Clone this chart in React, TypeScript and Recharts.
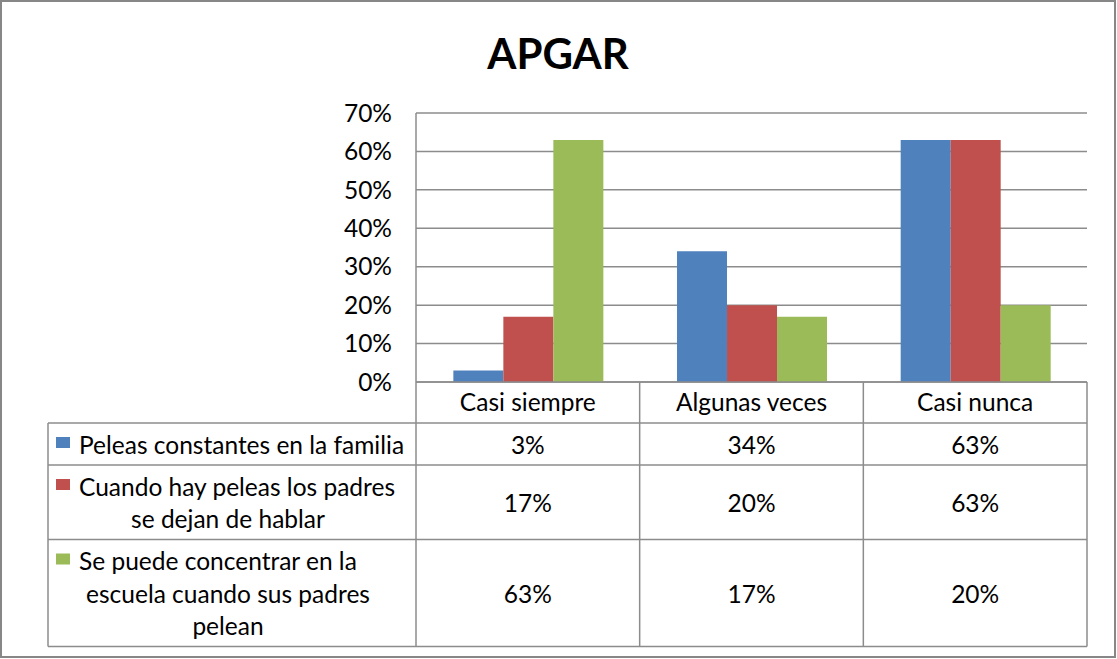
import { BarChart, Bar, XAxis, YAxis, CartesianGrid, Customized } from 'recharts'

const CATEGORIES = ['Casi siempre', 'Algunas veces', 'Casi nunca']
const PELEAS = [3, 34, 63]
const DEJAN_HABLAR = [17, 20, 63]
const CONCENTRAR = [63, 17, 20]
const Y_TICKS = [0, 10, 20, 30, 40, 50, 60, 70]

const SERIES = [
  { key: 'peleas', values: PELEAS, color: '#4F81BD', lines: ['Peleas constantes en la familia'] },
  {
    key: 'hablar',
    values: DEJAN_HABLAR,
    color: '#C0504D',
    lines: ['Cuando hay peleas los padres', 'se dejan de hablar'],
  },
  {
    key: 'concentrar',
    values: CONCENTRAR,
    color: '#9BBB59',
    lines: ['Se puede concentrar en la', 'escuela cuando sus padres', 'pelean'],
  },
]

const data = CATEGORIES.map((name, i) => {
  const row: Record<string, string | number> = { name }
  SERIES.forEach((s) => (row[s.key] = s.values[i]))
  return row
})

// layout (matches the excel export)
const W = 1117
const H = 659
const PLOT_LEFT = 416
const PLOT_RIGHT = 1087
const PLOT_TOP = 113
const PLOT_BOTTOM = 382
const HEADER_H = 41
const TABLE_LEFT = 48
const LINE_H = 32.5
const ROW_PAD = 9.5
const Y_AXIS_W = 60

const FONT = 'Lato, Carlito, Calibri, sans-serif'
const FONT_SIZE = 24.5
const LINE_COLOR = '#8c8c8c'

function DataTable() {
  const colW = (PLOT_RIGHT - PLOT_LEFT) / CATEGORIES.length
  let top = PLOT_BOTTOM + HEADER_H
  const rows = SERIES.map((s) => {
    const h = s.lines.length * LINE_H + ROW_PAD
    const r = { ...s, top, h }
    top += h
    return r
  })
  const bottom = top

  return (
    <g>
      <rect x={1} y={1} width={W - 3} height={H - 3} fill="none" stroke="#878787" strokeWidth={2} />

      {/* column lines */}
      {CATEGORIES.map((_, i) => (
        <line
          key={i}
          x1={PLOT_LEFT + i * colW}
          x2={PLOT_LEFT + i * colW}
          y1={PLOT_BOTTOM}
          y2={bottom}
          stroke={LINE_COLOR}
          strokeWidth={1.5}
        />
      ))}
      <line x1={PLOT_RIGHT} x2={PLOT_RIGHT} y1={PLOT_BOTTOM} y2={bottom} stroke={LINE_COLOR} strokeWidth={1.5} />
      <line x1={TABLE_LEFT} x2={TABLE_LEFT} y1={PLOT_BOTTOM + HEADER_H} y2={bottom} stroke={LINE_COLOR} strokeWidth={1.5} />

      {/* row lines */}
      {rows.map((r) => (
        <line key={r.key} x1={TABLE_LEFT} x2={PLOT_RIGHT} y1={r.top} y2={r.top} stroke={LINE_COLOR} strokeWidth={1.5} />
      ))}
      <line x1={TABLE_LEFT} x2={PLOT_RIGHT} y1={bottom} y2={bottom} stroke={LINE_COLOR} strokeWidth={1.5} />

      {rows.map((r) => {
        const mid = r.top + r.h / 2
        const n = r.lines.length
        return (
          <g key={r.key} fontFamily={FONT} fontSize={FONT_SIZE} fill="#000">
            {r.lines.map((ln, k) => {
              const cy = mid + (k - (n - 1) / 2) * LINE_H
              if (k === 0) {
                return (
                  <g key={k}>
                    <rect x={56} y={cy - 7} width={14} height={11} fill={r.color} />
                    <text x={79} y={cy} dominantBaseline="central">
                      {ln}
                    </text>
                  </g>
                )
              }
              return (
                <text key={k} x={228} y={cy} textAnchor="middle" dominantBaseline="central">
                  {ln}
                </text>
              )
            })}
            {r.values.map((v, i) => (
              <text
                key={i}
                x={PLOT_LEFT + (i + 0.5) * colW}
                y={mid}
                textAnchor="middle"
                dominantBaseline="central"
              >
                {v}%
              </text>
            ))}
          </g>
        )
      })}

      <text
        x={558}
        y={53}
        textAnchor="middle"
        dominantBaseline="central"
        fontFamily={FONT}
        fontSize={42}
        fontWeight="bold"
        fill="#000"
      >
        APGAR
      </text>
    </g>
  )
}

export default function App() {
  return (
    <div style={{ position: 'absolute', left: 0, top: 0, width: W, height: H, background: '#fff' }}>
      <BarChart
        width={W}
        height={H}
        data={data}
        margin={{
          top: PLOT_TOP,
          right: W - PLOT_RIGHT,
          left: PLOT_LEFT - Y_AXIS_W,
          bottom: H - PLOT_BOTTOM - HEADER_H,
        }}
        barCategoryGap="16.7%"
        barGap={0}
      >
        <CartesianGrid vertical={false} stroke={LINE_COLOR} strokeWidth={1.5} />
        <XAxis
          dataKey="name"
          height={HEADER_H}
          interval={0}
          tickLine={false}
          tickSize={0}
          tickMargin={12}
          axisLine={{ stroke: LINE_COLOR, strokeWidth: 1.5 }}
          tick={{ fill: '#000', fontSize: FONT_SIZE, fontFamily: FONT }}
        />
        <YAxis
          width={Y_AXIS_W}
          domain={[0, 70]}
          ticks={Y_TICKS}
          interval={0}
          tickFormatter={(v) => `${v}%`}
          tickLine={false}
          tickSize={0}
          tickMargin={24}
          axisLine={{ stroke: LINE_COLOR, strokeWidth: 1.5 }}
          tick={{ fill: '#000', fontSize: FONT_SIZE, fontFamily: FONT }}
        />
        {SERIES.map((s) => (
          <Bar key={s.key} dataKey={s.key} fill={s.color} isAnimationActive={false} />
        ))}
        <Customized component={DataTable} />
      </BarChart>
    </div>
  )
}
